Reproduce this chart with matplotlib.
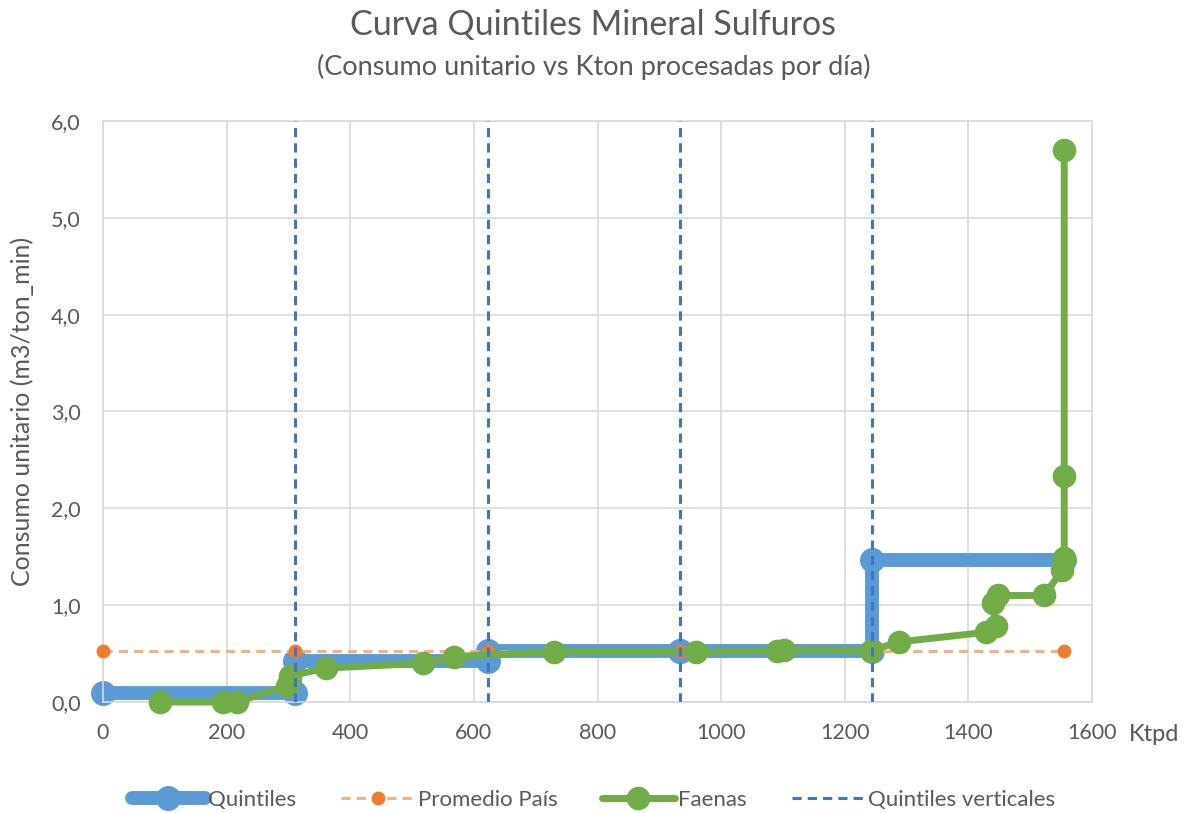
import numpy as np
import matplotlib.pyplot as plt
from matplotlib.ticker import FuncFormatter

plt.rcParams['font.family'] = ['Lato', 'DejaVu Sans']

# Quintiles (step curve)
quint_x = [0, 311, 311, 622, 622, 933, 933, 1244, 1244, 1555]
quint_y = [0.09, 0.09, 0.42, 0.42, 0.53, 0.53, 0.53, 0.53, 1.47, 1.47]

# Promedio pais
prom_x = [0, 311, 622, 933, 1244, 1555]
prom_y = [0.53, 0.53, 0.53, 0.53, 0.53, 0.53]

# Faenas
faena_x = [92, 194, 217, 298, 302, 361, 518, 568, 730, 960, 1091, 1102,
           1242, 1287, 1428, 1444, 1440, 1448, 1522, 1552, 1555, 1555, 1555]
faena_y = [0.0, 0.0, 0.0, 0.17, 0.27, 0.35, 0.40, 0.47, 0.52, 0.52, 0.53, 0.54,
           0.53, 0.62, 0.72, 0.78, 1.02, 1.10, 1.10, 1.36, 1.49, 2.33, 5.70]

# Quintiles verticales
vert_x = [311, 622, 933, 1244]
vert_y = [0, 6]

grey = '#595959'

fig = plt.figure(figsize=(11.87, 8.13), dpi=100)
ax = fig.add_axes([0.0868, 0.1365, 0.8332, 0.7147])

ax.plot(quint_x, quint_y, '-o', color='#5B9BD5', lw=10, ms=17, label='Quintiles', zorder=2,
        solid_capstyle='round', clip_on=False)
ax.plot(prom_x, prom_y, color='#F4B183', ls=(0, (3, 2)), lw=2.2, marker='o', ms=9,
        mfc='#ED7D31', mec='#ED7D31', label='Promedio País', zorder=3, clip_on=False)
ax.plot(faena_x, faena_y, '-o', color='#70AD47', lw=5, ms=16, label='Faenas', zorder=4,
        solid_capstyle='round', clip_on=False)
for i, vx in enumerate(vert_x):
    ax.plot([vx, vx], vert_y, color='#4472C4', ls=(0, (3, 2)), lw=2.2, zorder=5,
            label='Quintiles verticales' if i == 0 else None)

ax.set_xlim(0, 1600)
ax.set_ylim(0, 6)
ax.set_xticks(np.arange(0, 1601, 200))
ax.set_yticks(np.arange(0, 6.01, 1))
ax.yaxis.set_major_formatter(FuncFormatter(lambda v, p: f'{v:.1f}'.replace('.', ',')))
ax.grid(True, color='#D9D9D9', lw=1.2)
ax.set_axisbelow(True)
for s in ax.spines.values():
    s.set_color('#D9D9D9')
    s.set_linewidth(1.2)
ax.tick_params(length=0, labelsize=15.5, colors=grey)
ax.tick_params(axis='x', pad=15)
ax.tick_params(axis='y', pad=16)

ax.set_ylabel('Consumo unitario (m3/ton_min)', fontsize=18, color=grey, labelpad=12)
fig.text(0.972, 0.096, 'Ktpd', fontsize=17, color=grey, ha='center', va='center')

fig.text(0.5, 0.969, 'Curva Quintiles Mineral Sulfuros', fontsize=24.5, color=grey,
         ha='center', va='center')
fig.text(0.5, 0.918, '(Consumo unitario vs Kton procesadas por día)', fontsize=19.5,
         color=grey, ha='center', va='center')

leg = fig.legend(loc='center', bbox_to_anchor=(0.5, 0.016), ncol=4, frameon=False,
                 fontsize=16, handlelength=3.3, columnspacing=2.0, handletextpad=0.15)
for t in leg.get_texts():
    t.set_color(grey)

fig.savefig('out.png', dpi=100)
